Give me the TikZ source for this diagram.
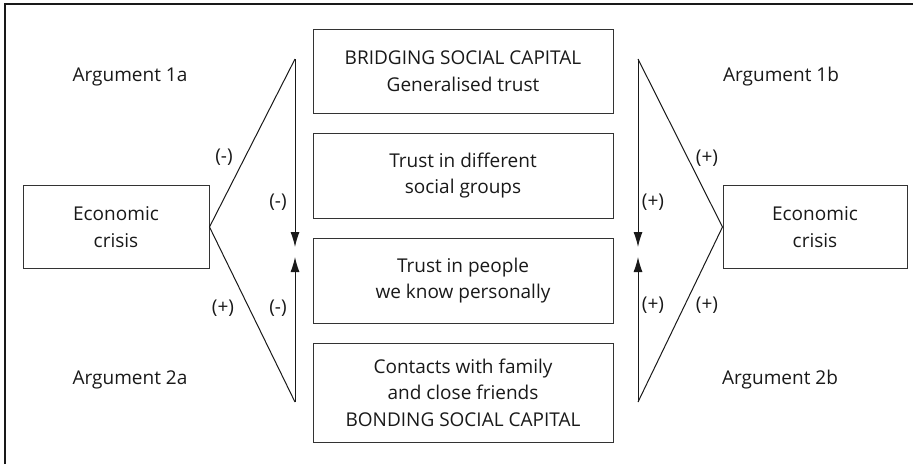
\documentclass[tikz,border=0pt]{standalone}
\usepackage{fontspec}
\setmainfont{Open Sans}
\usetikzlibrary{arrows.meta}
\begin{document}
\begin{tikzpicture}[x=1pt, y=-1pt,
    every node/.style={font=\fontsize{19}{26.5}\selectfont, text=black!90},
    box/.style={draw=black!80, line width=1pt, align=center, inner sep=0pt},
    link/.style={black!90, line width=1pt},
    tip/.style={link, -{Latex[length=15pt, width=9pt]}}]
    \useasboundingbox (0,0) rectangle (913,464);
    \draw[black!90, line width=1.4pt] (5,464) -- (5,4) -- (913,4);

    % side boxes
    \node[box, minimum width=186pt, minimum height=83pt] (lcrisis) at (116,227) {Economic\\crisis};
    \node[box, minimum width=184pt, minimum height=83pt] (rcrisis) at (815,227) {Economic\\crisis};

    % centre column
    \node[box, minimum width=300pt, minimum height=84pt] (bridging) at (463,71) {BRIDGING SOCIAL CAPITAL\\Generalised trust};
    \node[box, minimum width=300pt, minimum height=85pt] (groups) at (463,175.5) {Trust in different\\social groups};
    \node[box, minimum width=300pt, minimum height=85pt] (personal) at (463,280.5) {Trust in people\\we know personally};
    \node[box, minimum width=300pt, minimum height=99pt] (bonding) at (463,392.5) {Contacts with family\\and close friends\\BONDING SOCIAL CAPITAL};

    \coordinate (ltop) at (295,59);
    \coordinate (ldown) at (295,247);
    \coordinate (lup) at (295,257);
    \coordinate (lbot) at (295,402);
    \coordinate (rtop) at (638,59);
    \coordinate (rdown) at (638,247);
    \coordinate (rup) at (638,257);
    \coordinate (rbot) at (638,402);

    \draw[link] (lcrisis.east) -- (ltop);
    \draw[tip] (ltop) -- (ldown);
    \draw[link] (lcrisis.east) -- (lbot);
    \draw[tip] (lbot) -- (lup);

    \draw[link] (rcrisis.west) -- (rtop);
    \draw[tip] (rtop) -- (rdown);
    \draw[link] (rcrisis.west) -- (rbot);
    \draw[tip] (rbot) -- (rup);

    \node (arg1a) at (130,77) {Argument 1a};
    \node (arg1b) at (781,77) {Argument 1b};
    \node (arg2a) at (130,380) {Argument 2a};
    \node (arg2b) at (780,380) {Argument 2b};

    \node (s1) at (224,157) {(-)};
    \node (s2) at (278,202) {(-)};
    \node (s3) at (223,308) {(+)};
    \node (s4) at (278,308) {(-)};
    \node (s5) at (707,158) {(+)};
    \node (s6) at (653,202) {(+)};
    \node (s7) at (653,305) {(+)};
    \node (s8) at (707,305) {(+)};
\end{tikzpicture}
\end{document}
